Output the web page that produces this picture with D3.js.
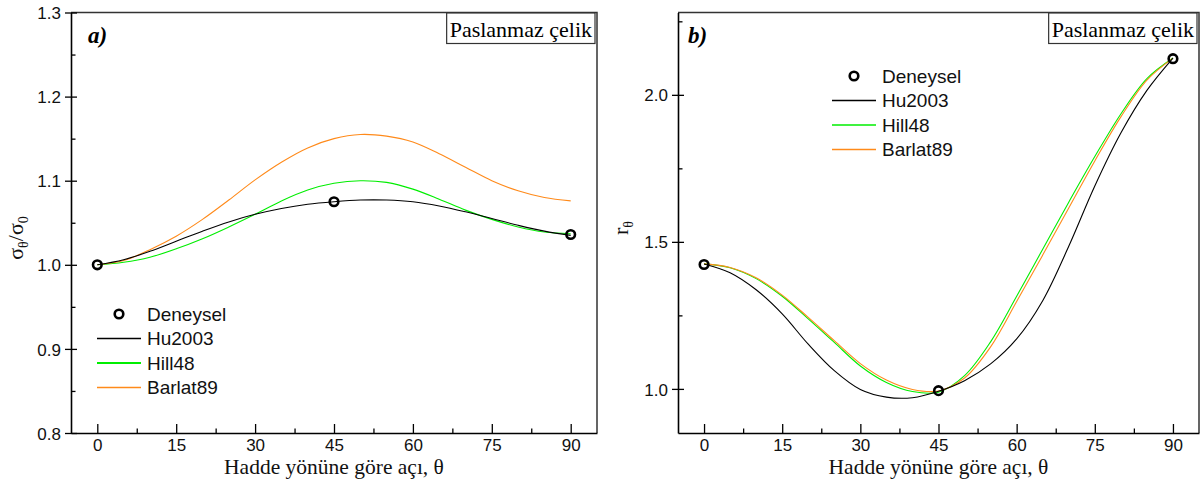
<!DOCTYPE html>
<html>
<head>
<meta charset="utf-8">
<script src="https://cdn.jsdelivr.net/npm/d3@7"></script>
<style>
  html, body { margin: 0; padding: 0; background: #fff; }
  svg { display: block; }
  .tick text { font-family: "Liberation Sans", Arial, sans-serif; font-size: 17px; fill: #111; }
</style>
</head>
<body>
<svg id="chart" width="1203" height="494"></svg>
<script>
// ---------- data ----------
const angles = [0,5,10,15,20,25,30,35,40,45,50,55,60,65,70,75,80,85,90];
const expAngles = [0,45,90];
const xTicks = [0,15,30,45,60,75,90];
const xMinor = [7.5,22.5,37.5,52.5,67.5,82.5];
const seriesNames = ["Deneysel","Hu2003","Hill48","Barlat89"];

// panel a) normalised yield stress sigma_theta / sigma_0
const aExp    = [1.000, 1.075, 1.036];
const aHu     = [1.000,1.006,1.016,1.028,1.040,1.051,1.060,1.067,1.072,1.075,1.077,1.077,1.075,1.070,1.063,1.055,1.047,1.040,1.035];
const aHill   = [1.000,1.003,1.009,1.019,1.031,1.045,1.060,1.076,1.089,1.097,1.100,1.098,1.090,1.078,1.065,1.054,1.045,1.039,1.037];
const aBarlat = [1.000,1.005,1.018,1.034,1.054,1.077,1.101,1.122,1.139,1.150,1.155,1.153,1.146,1.132,1.116,1.100,1.088,1.080,1.076];
const aYTicks = [0.8,0.9,1.0,1.1,1.2,1.3];
const aYMinor = [0.85,0.95,1.05,1.15,1.25];

// panel b) r-value r_theta
const bExp    = [1.423, 0.994, 2.123];
const bHu     = [1.425,1.395,1.337,1.255,1.152,1.062,0.998,0.972,0.970,0.992,1.028,1.085,1.170,1.300,1.485,1.690,1.870,2.015,2.125];
const bHill   = [1.425,1.412,1.375,1.315,1.238,1.158,1.078,1.022,0.991,0.989,1.045,1.160,1.315,1.475,1.635,1.790,1.935,2.055,2.125];
const bBarlat = [1.425,1.413,1.378,1.319,1.243,1.164,1.086,1.030,0.998,0.993,1.037,1.143,1.297,1.455,1.615,1.775,1.925,2.050,2.125];
const bYTicks = [1.0,1.5,2.0];
const bYMinor = [1.25,1.75,2.25];

const colors = {Hu2003:"#000000", Hill48:"#00ee00", Barlat89:"#ff8a1a"};

// ---------- drawing ----------
const svg = d3.select("#chart");
const serif = '"Liberation Serif","Times New Roman",serif';
const sans = '"Liberation Sans",Arial,sans-serif';

function panel(cfg) {
  const x = d3.scaleLinear().domain([-5,95]).range([cfg.left, cfg.right]);
  const y = d3.scaleLinear().domain(cfg.yDomain).range([cfg.bottom, cfg.top]);
  const g = svg.append("g");

  // frame (top + right)
  g.append("path")
    .attr("d", `M${cfg.left},${cfg.top}H${cfg.right}V${cfg.bottom}`)
    .attr("fill","none").attr("stroke","#333").attr("stroke-width",1.5);

  // x axis
  const xa = g.append("g").attr("transform",`translate(0,${cfg.bottom})`)
    .call(d3.axisBottom(x).tickValues(xTicks).tickSizeInner(-9).tickSizeOuter(0).tickPadding(6).tickFormat(d3.format("d")));
  xa.select(".domain").attr("stroke","#000").attr("stroke-width",1.6);
  xa.selectAll(".tick line").attr("stroke","#000").attr("stroke-width",1.3);
  g.append("g").attr("transform",`translate(0,${cfg.bottom})`)
    .call(d3.axisBottom(x).tickValues(xMinor).tickSizeInner(-4.5).tickSizeOuter(0).tickFormat(""))
    .call(s => { s.select(".domain").remove(); s.selectAll("line").attr("stroke","#000").attr("stroke-width",1.3); });

  // y axis
  const ya = g.append("g").attr("transform",`translate(${cfg.left},0)`)
    .call(d3.axisLeft(y).tickValues(cfg.yTicks).tickSizeInner(6).tickSizeOuter(0).tickPadding(4).tickFormat(d3.format(".1f")));
  ya.select(".domain").attr("stroke","#000").attr("stroke-width",1.6);
  ya.selectAll(".tick line").attr("stroke","#000").attr("stroke-width",1.3).attr("x2",-6).attr("x1",6);
  ya.selectAll(".tick text").attr("dy","0.36em");
  g.append("g").attr("transform",`translate(${cfg.left},0)`)
    .call(d3.axisLeft(y).tickValues(cfg.yMinor).tickSizeInner(-4.5).tickSizeOuter(0).tickFormat(""))
    .call(s => { s.select(".domain").remove(); s.selectAll("line").attr("stroke","#000").attr("stroke-width",1.3); });

  // curves
  const line = d3.line().x((d,i)=>x(angles[i])).y(d=>y(d)).curve(d3.curveCatmullRom.alpha(0.5));
  [["Hill48",cfg.hill],["Barlat89",cfg.barlat],["Hu2003",cfg.hu]].forEach(([name,vals])=>{
    g.append("path").datum(vals).attr("d",line)
      .attr("fill","none").attr("stroke",colors[name]).attr("stroke-width",1.1);
  });

  // experimental points
  g.selectAll("circle.exp").data(cfg.exp).join("circle").attr("class","exp")
    .attr("cx",(d,i)=>x(expAngles[i])).attr("cy",d=>y(d)).attr("r",4.3)
    .attr("fill","none").attr("stroke","#000").attr("stroke-width",2.6);

  // panel letter
  g.append("text").attr("x",cfg.left+cfg.letterDx).attr("y",cfg.top+30)
    .attr("font-family",serif).attr("font-size",23).attr("font-weight","bold").attr("font-style","italic")
    .text(cfg.letter);

  // material box
  const bx = g.append("g");
  const tb = bx.append("text").attr("x",cfg.right-5).attr("y",cfg.top+24)
    .attr("text-anchor","end").attr("font-family",serif).attr("font-size",22).text("Paslanmaz çelik");
  const bb = tb.node().getBBox();
  bx.insert("rect","text").attr("x",bb.x-3).attr("y",cfg.top+0.5).attr("width",bb.width+6).attr("height",30.5)
    .attr("fill","#fff").attr("stroke","#333").attr("stroke-width",1.2);

  // legend
  const lg = g.append("g");
  seriesNames.forEach((name,i)=>{
    const yy = cfg.legY + i*24.5;
    if (name === "Deneysel") {
      lg.append("circle").attr("cx",(cfg.legX1+cfg.legX2)/2).attr("cy",yy).attr("r",4.3)
        .attr("fill","none").attr("stroke","#000").attr("stroke-width",2.6);
    } else {
      lg.append("line").attr("x1",cfg.legX1).attr("x2",cfg.legX2).attr("y1",yy).attr("y2",yy)
        .attr("stroke",colors[name]).attr("stroke-width",name==="Hill48" && cfg.letter==="a)" ? 1.8 : 1.3);
    }
    lg.append("text").attr("x",cfg.legX2+6).attr("y",yy).attr("dy","0.36em")
      .attr("font-family",sans).attr("font-size",19).attr("fill","#111").text(name);
  });

  // x label
  g.append("text").attr("x",(cfg.left+cfg.right)/2).attr("y",474).attr("text-anchor","middle")
    .attr("font-family",serif).attr("font-size",21.5).attr("fill","#111").text("Hadde yönüne göre açı, θ");

  return {x,y,g};
}

panel({left:71,right:597,top:12.5,bottom:433,yDomain:[0.8,1.3],yTicks:aYTicks,yMinor:aYMinor,
  hu:aHu,hill:aHill,barlat:aBarlat,exp:aExp,letter:"a)",letterDx:17,legX1:97,legX2:141,legY:314});
panel({left:678,right:1199,top:12.5,bottom:433,yDomain:[0.85,2.28],yTicks:bYTicks,yMinor:bYMinor,
  hu:bHu,hill:bHill,barlat:bBarlat,exp:bExp,letter:"b)",letterDx:10,legX1:832,legX2:876,legY:76});

// y labels
const la = svg.append("text").attr("transform","translate(23,238) rotate(-90)").attr("text-anchor","middle")
  .attr("font-family",serif).attr("font-size",22).attr("fill","#111");
la.append("tspan").text("σ");
la.append("tspan").attr("font-size",14).attr("dy",5).text("θ");
la.append("tspan").attr("dy",-5).text("/σ");
la.append("tspan").attr("font-size",14).attr("dy",5).text("0");

const lb = svg.append("text").attr("transform","translate(628,228) rotate(-90)").attr("text-anchor","middle")
  .attr("font-family",serif).attr("font-size",22).attr("fill","#111");
lb.append("tspan").text("r");
lb.append("tspan").attr("font-size",14).attr("dy",5).text("θ");
</script>
</body>
</html>
